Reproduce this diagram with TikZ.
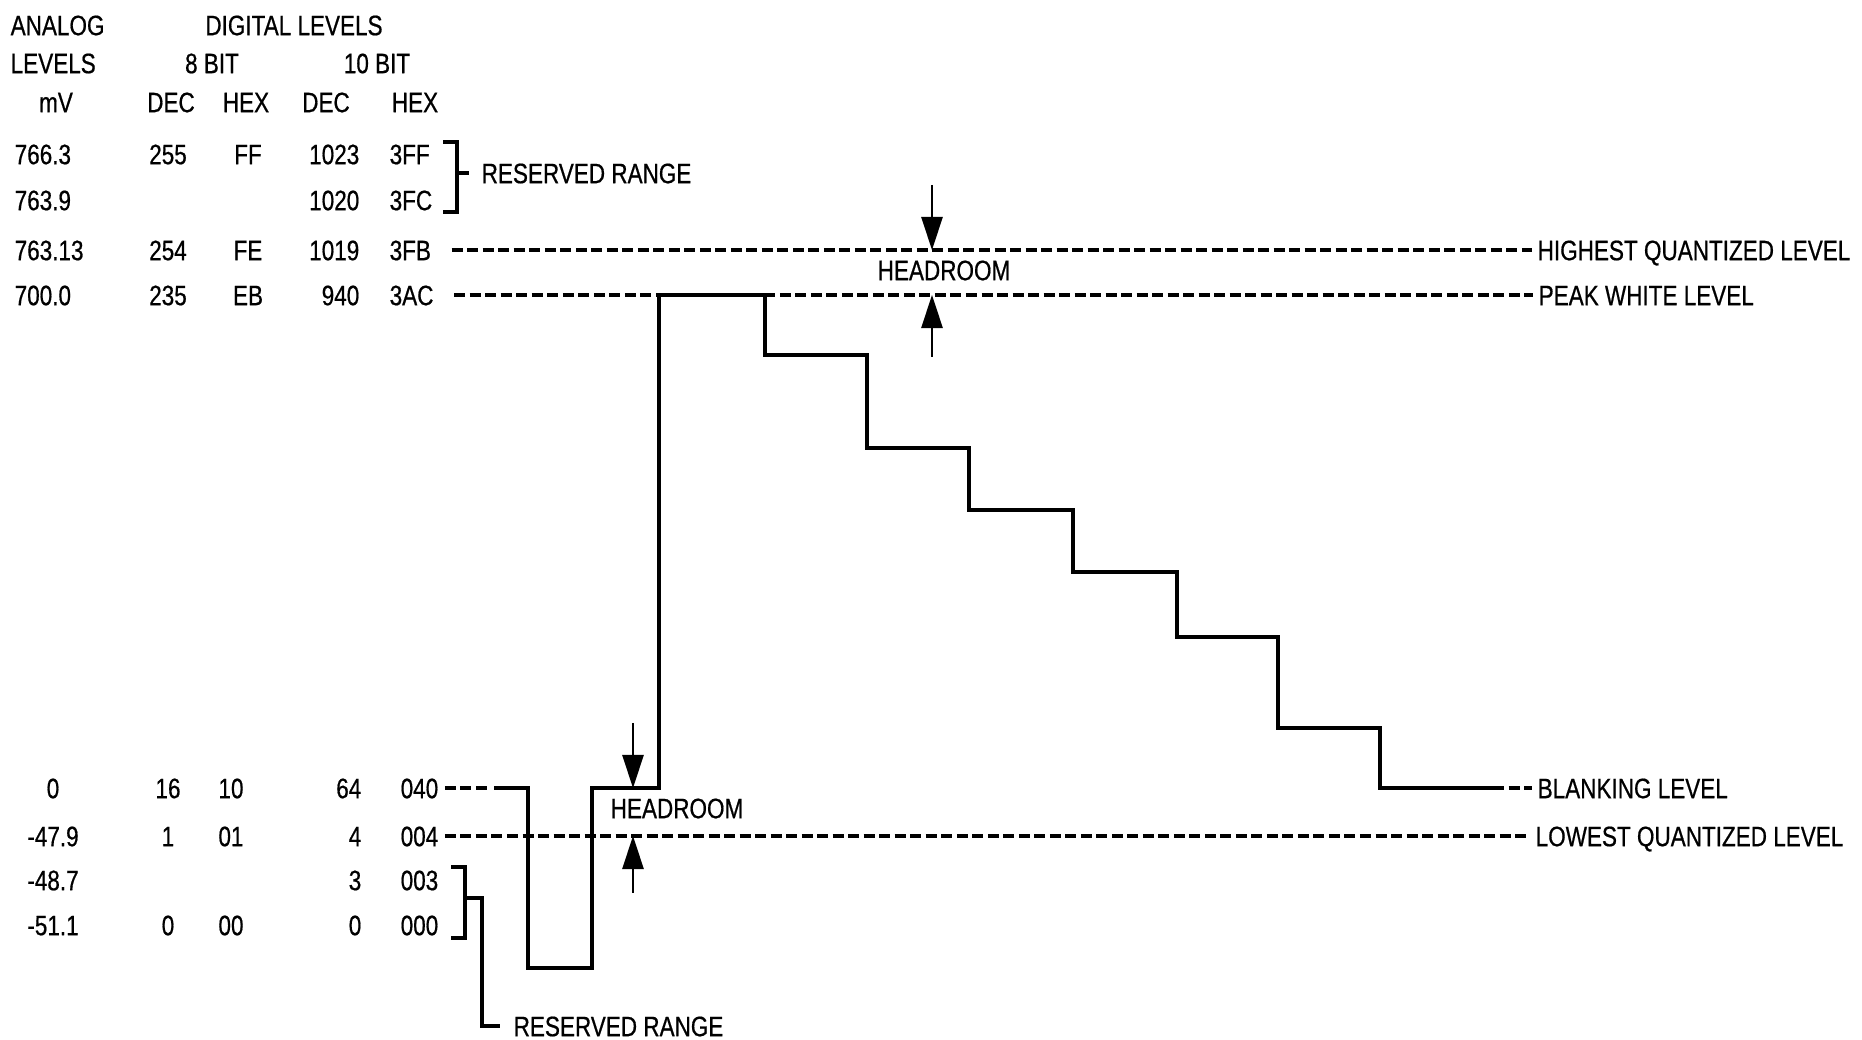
\documentclass[tikz,border=0pt]{standalone}
\usepackage{fontspec}
\setmainfont{Liberation Sans}[FakeStretch=0.8,FakeBold=0.6]
\usetikzlibrary{arrows.meta,positioning}
\tikzset{
  txt/.style={
    font=\fontsize{8}{9}\selectfont,
    inner sep=0pt,
    text height=5.8pt,
    text depth=0pt
  },
  lvl/.style={
    dash pattern=on 1.1mm off 0.45mm,
    line width=1pt,
    shorten <=0.6mm,
    shorten >=0.5mm
  },
  wave/.style={
    line width=1.3pt,
    line join=miter
  },
  bracket/.style={
    line width=1pt
  },
  hdarrow/.style={
    -{Triangle[length=3.3mm,width=2.1mm]},
    line width=0.8pt
  }
}

\begin{document}
\begin{tikzpicture}[x=0.01cm,y=-0.01cm]
\useasboundingbox (0,0) rectangle (1862,1040);
\node[txt,anchor=west] (hanalog) at (10,25) {ANALOG};
\node[txt] (hdigital) at (294,25) {DIGITAL LEVELS};
\node[txt,anchor=west] (hlevels) at (10,63) {LEVELS};
\node[txt] (height) at (212,63) {8 BIT};
\node[txt] (hten) at (377,63) {10 BIT};
\node[txt] (hmv) at (56,102) {mV};
\node[txt] (hdeca) at (171,102) {DEC};
\node[txt] (hhexa) at (246,102) {HEX};
\node[txt] (hdecb) at (326,102) {DEC};
\node[txt] (hhexb) at (415,102) {HEX};

\node[txt,anchor=west] (mvA) at (14,154) {766.3};
\node[txt] (dA) at (168,154) {255};
\node[txt] (hA) at (248,154) {FF};
\node[txt,anchor=east] (ddA) at (360,154) {1023};
\node[txt,anchor=west] (x3FF) at (389,154) {3FF};
\node[txt,anchor=west] (mvB) at (14,200) {763.9};
\node[txt,anchor=east] (ddB) at (360,200) {1020};
\node[txt,anchor=west] (x3FC) at (389,200) {3FC};
\node[txt,anchor=west] (mvC) at (14,250) {763.13};
\node[txt] (dC) at (168,250) {254};
\node[txt] (hC) at (248,250) {FE};
\node[txt,anchor=east] (ddC) at (360,250) {1019};
\node[txt,anchor=west] (x3FB) at (389,250) {3FB};
\node[txt,anchor=west] (mvD) at (14,295) {700.0};
\node[txt] (dD) at (168,295) {235};
\node[txt] (hD) at (248,295) {EB};
\node[txt,anchor=east] (ddD) at (360,295) {940};
\node[txt,anchor=west] (x3AC) at (389,295) {3AC};

\node[txt] (mvE) at (53,788) {0};
\node[txt] (dE) at (168,788) {16};
\node[txt] (hE) at (231,788) {10};
\node[txt,anchor=east] (ddE) at (362,788) {64};
\node[txt,anchor=west] (x040) at (400,788) {040};
\node[txt] (mvF) at (53,836) {-47.9};
\node[txt] (dF) at (168,836) {1};
\node[txt] (hF) at (231,836) {01};
\node[txt,anchor=east] (ddF) at (362,836) {4};
\node[txt,anchor=west] (x004) at (400,836) {004};
\node[txt] (mvG) at (53,880) {-48.7};
\node[txt,anchor=east] (ddG) at (362,880) {3};
\node[txt,anchor=west] (x003) at (400,880) {003};
\node[txt] (mvH) at (53,925) {-51.1};
\node[txt] (dH) at (168,925) {0};
\node[txt] (hH) at (231,925) {00};
\node[txt,anchor=east] (ddH) at (362,925) {0};
\node[txt,anchor=west] (x000) at (400,925) {000};

\node[txt,anchor=west] (resup) at (481,173) {RESERVED RANGE};
\node[txt,anchor=west] (reslow) at (513,1026) {RESERVED RANGE};
\node[txt,anchor=west] (lhighest) at (1537,250) {HIGHEST QUANTIZED LEVEL};
\node[txt,anchor=west] (lpeak) at (1538,295) {PEAK WHITE LEVEL};
\node[txt,anchor=west] (lblank) at (1537,788) {BLANKING LEVEL};
\node[txt,anchor=west] (llowest) at (1535,836) {LOWEST QUANTIZED LEVEL};
\node[txt] (headup) at (944,270) {HEADROOM};
\node[txt] (headlow) at (677,808) {HEADROOM};

\coordinate (wstart) at (494,788);
\coordinate (wend) at (1493,788);
\coordinate (upA) at (932,185);
\coordinate (upB) at (932,357);
\coordinate (loA) at (633,723);
\coordinate (loB) at (633,893);

\draw[lvl,shorten <=2mm] (x3FB.east) -- (lhighest.west);
\draw[lvl,shorten <=2mm] (x3AC.east) -- (lpeak.west);
\draw[lvl] (x004.east) -- (llowest.west);
\draw[lvl] (x040.east) -- (wstart);
\draw[lvl,shorten <=0pt] (wend) -- (lblank.west);

\draw[wave] (wstart) -- (528,788) -- (528,968) -- (592,968) -- (592,788)
  -- (659,788) -- (659,295) -- (765,295) -- (765,355) -- (867,355)
  -- (867,448) -- (969,448) -- (969,510) -- (1073,510) -- (1073,572)
  -- (1177,572) -- (1177,637) -- (1278,637) -- (1278,728) -- (1380,728)
  -- (1380,788) -- (wend);

\draw[bracket] (443,142) -- (457,142) -- (457,212) -- (443,212);
\draw[bracket] (457,173) -- (469,173);
\draw[bracket] (451,867) -- (465,867) -- (465,938) -- (451,938);
\draw[bracket] (465,898) -- (482,898) -- (482,1026) -- (500,1026);

\draw[hdarrow] (upA) -- (upA |- lhighest);
\draw[hdarrow] (upB) -- (upB |- lpeak);
\draw[hdarrow] (loA) -- (loA |- lblank);
\draw[hdarrow] (loB) -- (loB |- llowest);
\end{tikzpicture}
\end{document}
